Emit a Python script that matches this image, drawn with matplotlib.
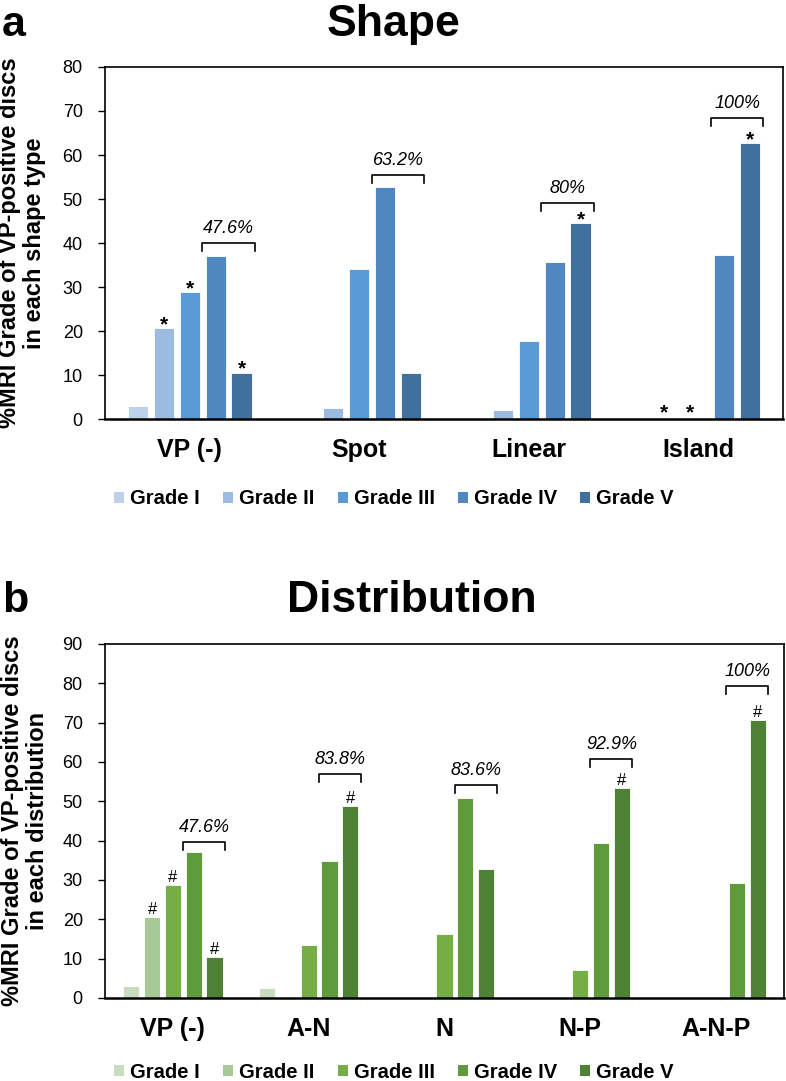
import matplotlib
matplotlib.use("Agg")
import matplotlib.pyplot as plt
from matplotlib.patches import Patch
import numpy as np

plt.rcParams['font.family'] = ['Liberation Sans', 'DejaVu Sans']

grades = ["Grade I", "Grade II", "Grade III", "Grade IV", "Grade V"]

# Panel a: Shape
shape_cats = ["VP (-)", "Spot", "Linear", "Island"]
shape_vals = {
    "Grade I":   [3.0, 0.0, 0.0, 0.0],
    "Grade II":  [20.6, 2.6, 2.1, 0.0],
    "Grade III": [28.8, 34.2, 17.8, 0.0],
    "Grade IV":  [37.1, 52.7, 35.7, 37.3],
    "Grade V":   [10.5, 10.5, 44.5, 62.7],
}
shape_pct = ["47.6%", "63.2%", "80%", "100%"]
shape_bracket = [40.0, 55.4, 49.1, 68.4]
# (category index, grade index) with asterisk
shape_marks = [(0, 1), (0, 2), (0, 4), (2, 4), (3, 4)]
shape_zero_marks = [(3, 1), (3, 2)]

# Panel b: Distribution
dist_cats = ["VP (-)", "A-N", "N", "N-P", "A-N-P"]
dist_vals = {
    "Grade I":   [3.0, 2.6, 0.0, 0.0, 0.0],
    "Grade II":  [20.5, 0.0, 0.0, 0.0, 0.0],
    "Grade III": [28.8, 13.4, 16.3, 7.0, 0.0],
    "Grade IV":  [37.0, 34.9, 50.8, 39.3, 29.3],
    "Grade V":   [10.3, 48.7, 32.7, 53.5, 70.6],
}
dist_pct = ["47.6%", "83.8%", "83.6%", "92.9%", "100%"]
dist_bracket = [39.7, 57.0, 54.2, 60.8, 79.4]
dist_marks = [(0, 1), (0, 2), (0, 4), (1, 4), (3, 4), (4, 4)]

blues = ["#bdd1eb", "#9cbbe1", "#5b9bd5", "#4f87c1", "#41709f"]
greens = ["#c9dcc0", "#a6c995", "#74ae44", "#5f9b3a", "#4e8133"]

W, H = 786, 1081
fig = plt.figure(figsize=(W / 100, H / 100), dpi=100)

step = 0.153
width = 0.12


def panel(rect, cats, vals, colors, ymax, pct, brk, marks, sym, sym_size,
          sym_weight, sym_off, br_depth):
    ax = fig.add_axes(rect)
    x = np.arange(len(cats))
    for gi, g in enumerate(grades):
        ax.bar(x + (gi - 2) * step, vals[g], width=width, color=colors[gi],
               edgecolor='white', linewidth=0.6, zorder=2)
    ax.set_xlim(-0.5, len(cats) - 0.5)
    ax.set_ylim(0, ymax)
    ax.set_yticks(np.arange(0, ymax + 1, 10))
    ax.set_xticks(x)
    ax.set_xticklabels(cats, fontsize=18, fontweight='bold')
    ax.tick_params(axis='x', length=0, pad=14)
    ax.tick_params(axis='y', length=5, width=1, direction='out', pad=11,
                   labelsize=13)
    for s in ax.spines.values():
        s.set_linewidth(1.2)
        s.set_color('black')
    ax.spines['bottom'].set_linewidth(1.8)
    # brackets
    for ci in range(len(cats)):
        xl = x[ci] + 1 * step - width / 2 - 0.018
        xr = x[ci] + 2 * step + width / 2 + 0.018
        yt = brk[ci]
        ax.plot([xl, xl, xr, xr], [yt - br_depth, yt, yt, yt - br_depth],
                color='black', lw=1.2, zorder=3, clip_on=False)
        ax.annotate(pct[ci], ((xl + xr) / 2, yt), xytext=(0, 6),
                    textcoords='offset pixels', ha='center', va='bottom',
                    fontsize=13, style='italic')
    for ci, gi in marks:
        v = vals[grades[gi]][ci]
        ax.annotate(sym, (x[ci] + (gi - 2) * step, v), xytext=(0, sym_off),
                    textcoords='offset pixels', ha='center', va='baseline',
                    fontsize=sym_size, fontweight=sym_weight)
    return ax


ax1 = panel([105 / W, 1 - 419 / H, 678 / W, 352 / H], shape_cats, shape_vals,
            blues, 80, shape_pct, shape_bracket, shape_marks, '*', 15, 'bold',
            -2, 1.8)
xs = np.arange(len(shape_cats))
for ci, gi in shape_zero_marks:
    ax1.annotate('*', (xs[ci] + (gi - 2) * step - 0.05, 0), xytext=(0, 1),
                 textcoords='offset pixels', ha='center', va='baseline',
                 fontsize=15, fontweight='bold')

ax2 = panel([105 / W, 1 - 998 / H, 679 / W, 354 / H], dist_cats, dist_vals,
            greens, 90, dist_pct, dist_bracket, dist_marks, '#', 12, 'normal',
            3, 2.1)

# y labels
fig.text(22 / W, 1 - 243 / H, "%MRI Grade of VP-positive discs\nin each shape type",
         rotation=90, ha='center', va='center', fontsize=17, fontweight='bold',
         linespacing=1.1)
fig.text(25 / W, 1 - 821 / H, "%MRI Grade of VP-positive discs\nin each distribution",
         rotation=90, ha='center', va='center', fontsize=17, fontweight='bold',
         linespacing=1.1)

# titles
fig.text(394 / W, 1 - 36 / H, "Shape", ha='center', va='baseline',
         fontsize=32, fontweight='bold')
fig.text(2 / W, 1 - 36 / H, "a", ha='left', va='baseline',
         fontsize=31, fontweight='bold')
fig.text(412 / W, 1 - 612 / H, "Distribution", ha='center', va='baseline',
         fontsize=32, fontweight='bold')
fig.text(2 / W, 1 - 612 / H, "b", ha='left', va='baseline',
         fontsize=31, fontweight='bold')

# legends
for colors, ycen in [(blues, 499), (greens, 1072)]:
    handles = [Patch(facecolor=c, edgecolor='none') for c in colors]
    fig.legend(handles, grades, loc='center', bbox_to_anchor=(394 / W, 1 - ycen / H),
               ncol=5, frameon=False, prop={'weight': 'bold', 'size': 14.5},
               handlelength=0.5, handleheight=0.5, handletextpad=0.3,
               columnspacing=1.15, borderpad=0, borderaxespad=0)

fig.savefig("out.png", dpi=100)
